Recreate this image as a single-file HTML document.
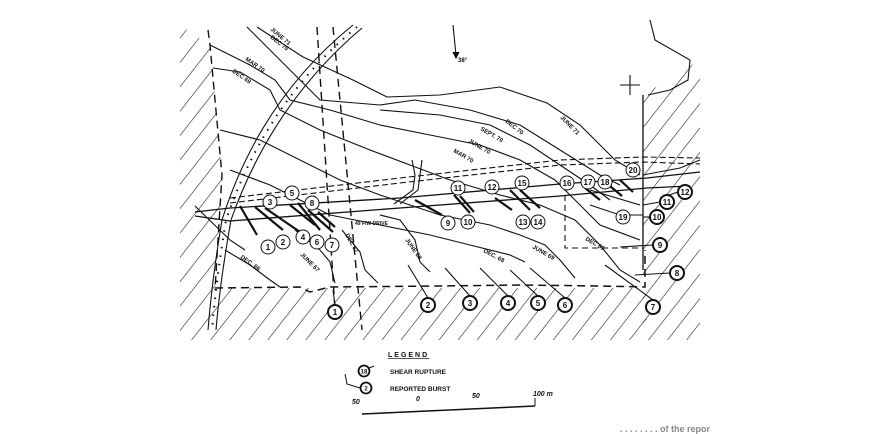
<!DOCTYPE html>
<html><head><meta charset="utf-8"><style>
html,body{margin:0;padding:0;background:#fff;width:869px;height:434px;overflow:hidden}
svg{display:block}
text{font-family:"Liberation Sans",sans-serif;font-weight:bold;fill:#111}
</style></head><body>
<svg width="869" height="434" viewBox="0 0 869 434" xmlns="http://www.w3.org/2000/svg">
<defs>
<pattern id="h" width="15" height="15" patternUnits="userSpaceOnUse" patternTransform="rotate(38)">
<line x1="0" y1="0" x2="0" y2="15" stroke="#222" stroke-width="1.2"/>
</pattern>
</defs>
<g fill="url(#h)" stroke="none">
<polygon points="180,25 210,45 222,175 215,290 205,340 180,340"/>
<polygon points="215,288 645,288 648,340 205,340"/>
<polygon points="643,95 700,60 700,340 643,340"/>
</g>
<g fill="none" stroke="#111" stroke-width="1.1">
<polyline stroke-dasharray="8,5" stroke-width="1.4" points="208,30 210,45 215,100 222,175 218,240 215,290"/>
<polyline stroke-dasharray="8,5" stroke-width="1.5" points="215,288 300,287 310,292 330,287 440,286 520,285 600,286 645,287 645,250"/>
<polyline stroke-dasharray="8,5" stroke-width="1.4" points="317,27 335,310"/>
<polyline stroke-dasharray="8,5" stroke-width="1.4" points="333,27 362,330"/>
<polyline stroke-dasharray="6,4" points="565,185 565,248 643,248"/>
<polyline stroke-width="1.3" points="643,95 643,270"/>
<polyline points="650,20 655,40 690,60 688,80 670,90 648,95"/>
<line x1="620" y1="85" x2="640" y2="85"/><line x1="630" y1="75" x2="630" y2="95"/>
<line x1="453" y1="25" x2="456" y2="55"/><polyline points="453,52 456,58 459,52" fill="#111"/>
<path d="M353,25 Q260,100 222,220 Q212,280 208,330"/>
<path d="M362,28 Q272,104 231,220 Q220,282 216,330"/>
<path d="M357,27 Q266,102 226,220 Q216,281 212,330" stroke-dasharray="1.5,7" stroke-width="2"/>
<polyline stroke-width="1.3" points="195,212 230,208 400,198 560,184 647,178 700,172"/>
<polyline stroke-width="1.3" points="195,216 230,221 400,208 560,196 647,188 690,186"/>
<polyline stroke-dasharray="6,3" points="230,198 400,178 560,160 643,157 700,158"/>
<polyline stroke-dasharray="6,3" points="230,203 400,183 560,165 643,162 700,164"/>
<polyline points="195,206 230,240 245,250"/>
<polyline points="394,204 413,190 415,175 412,160"/><polyline points="400,204 418,190 420,175 422,160"/>
<polyline points="643,175 680,168 700,160"/>
<polyline points="257,27 303,57 353,80 387,97 440,95 500,87 547,103 580,125 615,160 640,175"/>
<polyline points="247,27 290,70 320,100 380,105 415,100 470,110 520,125 560,150 600,175 620,185"/>
<polyline points="380,110 440,115 490,125 530,145 560,165 590,185 610,200"/>
<polyline points="210,45 250,65 275,80 290,100 330,110 380,125 430,135 480,145 520,160 555,180 580,205 600,225 640,240"/>
<polyline points="213,68 240,72 270,90 280,110 320,130 370,150 410,165 450,180 500,195 540,205 575,220 600,245 620,270 640,282"/>
<polyline points="220,130 260,140 300,160 340,180 380,195 440,215 490,225 520,235 545,245 560,260 575,278"/>
<polyline points="230,170 270,185 300,200 330,215 380,225 430,235 470,245 510,255 525,262"/>
<polyline points="380,215 400,220 415,240 420,262 430,272"/>
<polyline points="342,230 350,240 360,252 365,270 378,283"/>
<polyline points="295,230 320,250 330,262 335,283"/>
<polyline points="225,250 250,265 270,280 280,287"/>
<polyline points="590,205 620,215 643,215"/><polyline points="590,190 640,205"/>
<line x1="335" y1="305" x2="333" y2="290"/><line x1="428" y1="298" x2="408" y2="265"/>
<line x1="470" y1="296" x2="445" y2="268"/><line x1="508" y1="296" x2="480" y2="268"/>
<line x1="538" y1="296" x2="510" y2="270"/><line x1="565" y1="298" x2="530" y2="268"/>
<line x1="653" y1="300" x2="605" y2="265"/><line x1="670" y1="273" x2="635" y2="275"/>
<line x1="653" y1="245" x2="620" y2="247"/><line x1="650" y1="217" x2="643" y2="217"/>
<line x1="660" y1="202" x2="643" y2="205"/><line x1="678" y1="192" x2="660" y2="198"/>
</g>
<g stroke="#111" stroke-width="2.2">
<line x1="240" y1="206" x2="257" y2="235"/><line x1="255" y1="207" x2="283" y2="230"/>
<line x1="265" y1="208" x2="300" y2="232"/><line x1="290" y1="205" x2="315" y2="225"/>
<line x1="298" y1="203" x2="320" y2="230"/><line x1="308" y1="210" x2="333" y2="232"/>
<line x1="318" y1="212" x2="335" y2="227"/>
<line x1="415" y1="200" x2="442" y2="215"/><line x1="454" y1="195" x2="470" y2="213"/>
<line x1="460" y1="196" x2="474" y2="212"/><line x1="495" y1="198" x2="512" y2="210"/>
<line x1="510" y1="190" x2="530" y2="210"/><line x1="520" y1="190" x2="540" y2="208"/>
<line x1="585" y1="188" x2="600" y2="200"/><line x1="605" y1="182" x2="622" y2="196"/>
<line x1="620" y1="180" x2="633" y2="192"/>
</g>
<g fill="#fff" stroke="#111" stroke-width="1">
<circle cx="268" cy="247" r="7"/><circle cx="283" cy="242" r="7"/><circle cx="270" cy="202" r="7"/>
<circle cx="303" cy="237" r="7"/><circle cx="292" cy="193" r="7"/><circle cx="317" cy="242" r="7"/>
<circle cx="332" cy="245" r="7"/><circle cx="312" cy="203" r="7"/><circle cx="448" cy="223" r="7"/>
<circle cx="468" cy="222" r="7"/><circle cx="458" cy="188" r="7"/><circle cx="492" cy="187" r="7"/>
<circle cx="523" cy="222" r="7"/><circle cx="538" cy="222" r="7"/><circle cx="522" cy="183" r="7"/>
<circle cx="567" cy="183" r="7"/><circle cx="588" cy="182" r="7"/><circle cx="605" cy="182" r="7"/>
<circle cx="623" cy="217" r="7"/><circle cx="633" cy="170" r="7"/>
</g>
<g fill="#fff" stroke="#111" stroke-width="2">
<circle cx="335" cy="312" r="7"/><circle cx="428" cy="305" r="7"/><circle cx="470" cy="303" r="7"/>
<circle cx="508" cy="303" r="7"/><circle cx="538" cy="303" r="7"/><circle cx="565" cy="305" r="7"/>
<circle cx="653" cy="307" r="7"/><circle cx="677" cy="273" r="7"/><circle cx="660" cy="245" r="7"/>
<circle cx="657" cy="217" r="7"/><circle cx="667" cy="202" r="7"/><circle cx="685" cy="192" r="7"/>
</g>
<g font-size="8" text-anchor="middle" font-weight="normal">
<text x="268" y="250">1</text><text x="283" y="245">2</text><text x="270" y="205">3</text>
<text x="303" y="240">4</text><text x="292" y="196">5</text><text x="317" y="245">6</text>
<text x="332" y="248">7</text><text x="312" y="206">8</text><text x="448" y="226">9</text>
<text x="468" y="225">10</text><text x="458" y="191">11</text><text x="492" y="190">12</text>
<text x="523" y="225">13</text><text x="538" y="225">14</text><text x="522" y="186">15</text>
<text x="567" y="186">16</text><text x="588" y="185">17</text><text x="605" y="185">18</text>
<text x="623" y="220">19</text><text x="633" y="173">20</text>
<text x="335" y="315">1</text><text x="428" y="308">2</text><text x="470" y="306">3</text>
<text x="508" y="306">4</text><text x="538" y="306">5</text><text x="565" y="308">6</text>
<text x="653" y="310">7</text><text x="677" y="276">8</text><text x="660" y="248">9</text>
<text x="657" y="220">10</text><text x="667" y="205">11</text><text x="685" y="195">12</text>
</g>
<g font-size="6">
<text x="458" y="62">38°</text>
<text x="355" y="225" font-size="5">49 F/W DRIVE</text>
<text transform="translate(270,30) rotate(40)">JUNE 71</text>
<text transform="translate(270,38) rotate(38)">DEC 70</text>
<text transform="translate(245,60) rotate(35)">MAR 70</text>
<text transform="translate(232,72) rotate(35)">DEC 69</text>
<text transform="translate(505,122) rotate(38)">DEC 70</text>
<text transform="translate(560,118) rotate(45)">JUNE 71</text>
<text transform="translate(480,130) rotate(30)">SEPT. 70</text>
<text transform="translate(468,142) rotate(30)">JUNE 70</text>
<text transform="translate(453,152) rotate(30)">MAR 70</text>
<text transform="translate(585,240) rotate(30)">DEC 69</text>
<text transform="translate(532,248) rotate(30)">JUNE 69</text>
<text transform="translate(483,252) rotate(28)">DEC. 68</text>
<text transform="translate(405,240) rotate(55)">JUNE 68</text>
<text transform="translate(345,235) rotate(60)">DEC 67</text>
<text transform="translate(300,255) rotate(45)">JUNE 67</text>
<text transform="translate(240,258) rotate(35)">DEC. 66</text>
</g>
<text x="388" y="357" font-size="7" letter-spacing="2" text-decoration="underline">LEGEND</text>
<circle cx="364" cy="371" r="5.5" fill="#fff" stroke="#111" stroke-width="1.8"/>
<text x="364" y="373.5" font-size="6" text-anchor="middle" font-weight="normal">18</text>
<path d="M369,368 l5,-2" stroke="#111" fill="none"/>
<circle cx="366" cy="388" r="5.5" fill="#fff" stroke="#111" stroke-width="1.8"/>
<text x="366" y="390.5" font-size="6" text-anchor="middle" font-weight="normal">2</text>
<path d="M345,374 l2,10 l13,4" stroke="#111" fill="none"/>
<text x="390" y="374" font-size="6.5" font-weight="normal">SHEAR RUPTURE</text>
<text x="390" y="391" font-size="6.5" font-weight="normal">REPORTED BURST</text>
<line x1="362" y1="414" x2="535" y2="406" stroke="#111" stroke-width="1.5"/>
<line x1="535" y1="398" x2="535" y2="406" stroke="#111"/>
<text x="352" y="404" font-size="7" font-style="italic">50</text>
<text x="416" y="401" font-size="7" font-style="italic">0</text>
<text x="472" y="398" font-size="7" font-style="italic">50</text>
<text x="533" y="396" font-size="7" font-style="italic">100 m</text>
<text x="620" y="432" font-size="9" font-weight="normal" font-family="Liberation Serif" style="fill:#888">. . . . . . . . of the repor</text>
</svg>
</body></html>
